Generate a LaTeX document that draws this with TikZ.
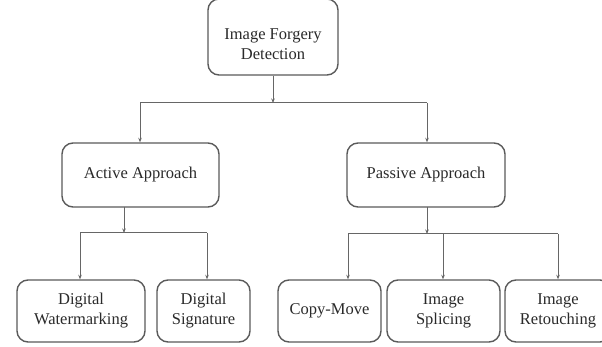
\documentclass[tikz,border=0pt]{standalone}
\usepackage{fontspec}
\setmainfont{Liberation Serif}
\usetikzlibrary{arrows.meta}
\definecolor{boxline}{HTML}{5A5A5A}
\definecolor{txt}{HTML}{2A2A2A}
\definecolor{conn}{HTML}{666666}
\tikzset{
  box/.style={draw=boxline, line width=1.4pt, rounded corners=11pt, align=center,
    text=txt, font=\fontsize{16.5}{20}\selectfont, inner sep=0pt},
  conline/.style={draw=conn, line width=1pt},
  arr/.style={conline, -{Stealth[length=4.5pt,width=3.5pt]}}
}
\begin{document}
\begin{tikzpicture}[x=1pt,y=-1pt]
\useasboundingbox (0,0) rectangle (602,347);
\clip (0,0) rectangle (602,347);
\fill[white] (0,0) rectangle (602,347);
% nodes
\node[box, minimum width=130pt, minimum height=76pt] (top) at (273,37) {\rule{0pt}{25pt}Image Forgery\\Detection};
\node[box, minimum width=157pt, minimum height=64pt] (act) at (140.5,175) {Active Approach};
\node[box, minimum width=158pt, minimum height=64pt] (pas) at (426,175) {Passive Approach};
\node[box, minimum width=128pt, minimum height=62pt] (dw) at (81,311) {Digital\\Watermarking};
\node[box, minimum width=93pt, minimum height=62pt] (ds) at (203.5,311) {Digital\\Signature};
\node[box, minimum width=103pt, minimum height=62pt] (cm) at (329.5,311) {Copy-Move};
\node[box, minimum width=113pt, minimum height=62pt] (is) at (443.5,311) {Image\\Splicing};
\node[box, minimum width=106pt, minimum height=62pt] (ir) at (558,311) {Image\\Retouching};
% junction coordinates
\coordinate (j1) at (273,103);
\coordinate (j1l) at (140,103);
\coordinate (j1r) at (427,103);
\coordinate (a0) at (124,207);
\coordinate (j2) at (124,233);
\coordinate (j2l) at (80,233);
\coordinate (j2r) at (207,233);
\coordinate (p0) at (427,207);
\coordinate (j3) at (427,234);
\coordinate (j3l) at (348,234);
\coordinate (j3m) at (443,234);
\coordinate (j3r) at (558,234);
% connectors
\draw[arr] (top.south) -- (j1);
\draw[conline] (j1l) -- (j1r);
\draw[arr] (j1l) -- (j1l |- act.north);
\draw[arr] (j1r) -- (j1r |- pas.north);
\draw[arr] (a0) -- (j2);
\draw[conline] (j2l) -- (j2r);
\draw[arr] (j2l) -- (j2l |- dw.north);
\draw[arr] (j2r) -- (j2r |- ds.north);
\draw[arr] (p0) -- (j3);
\draw[conline] (j3l) -- (j3r);
\draw[arr] (j3l) -- (j3l |- cm.north);
\draw[arr] (j3m) -- (j3m |- is.north);
\draw[arr] (j3r) -- (j3r |- ir.north);
\end{tikzpicture}
\end{document}
